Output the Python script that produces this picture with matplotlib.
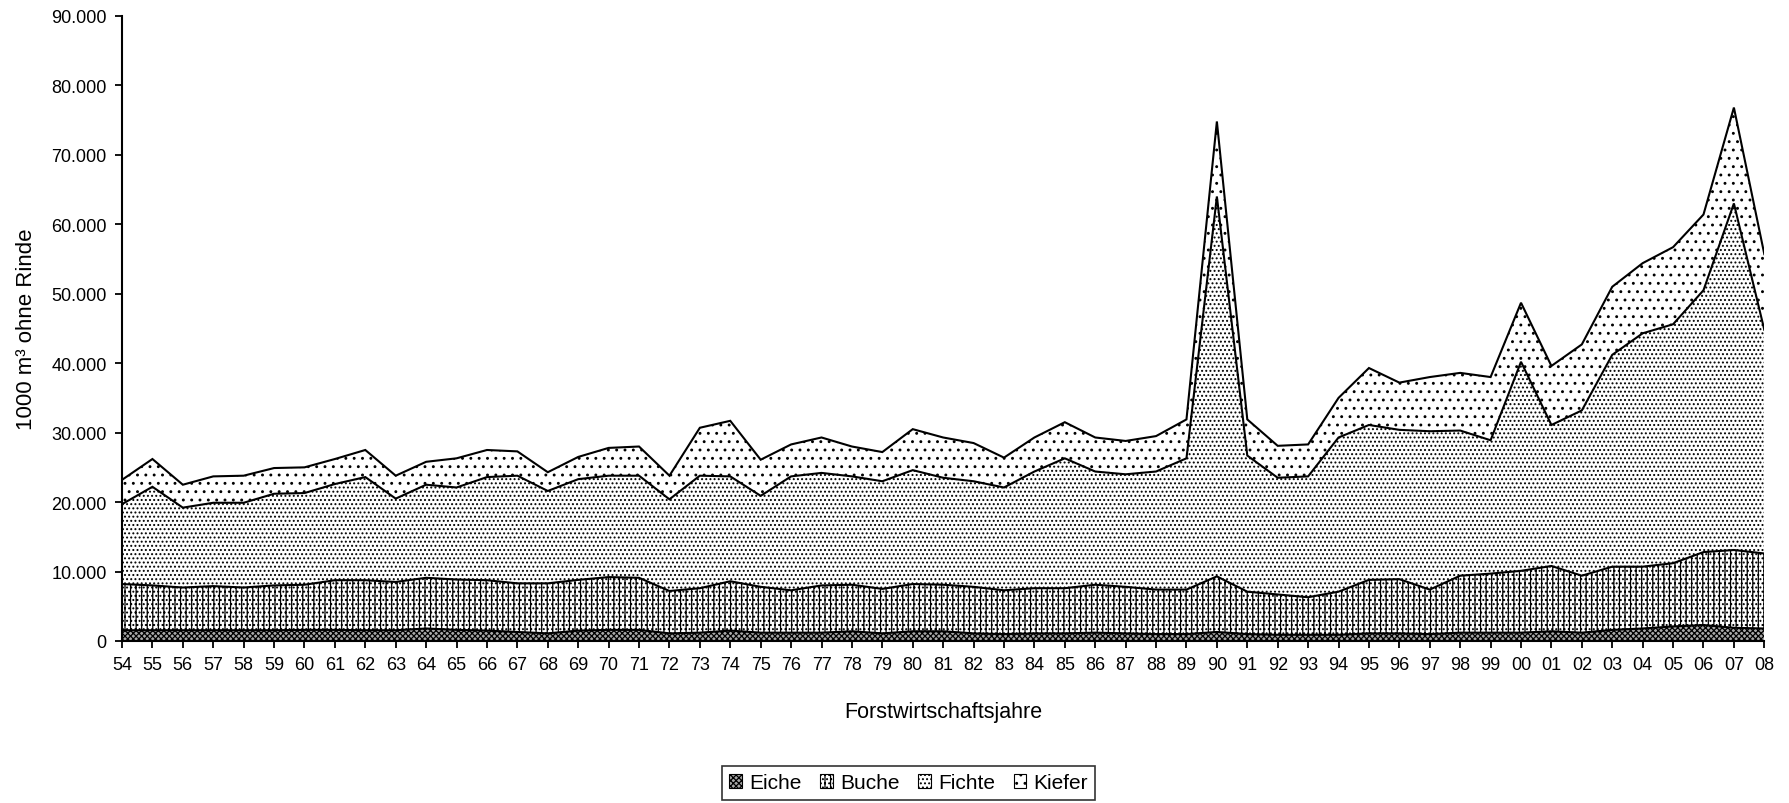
import numpy as np
import matplotlib
matplotlib.use("Agg")
import matplotlib.pyplot as plt
from matplotlib.patches import Patch
from matplotlib.ticker import FuncFormatter

plt.rcParams['font.family'] = ['Liberation Sans', 'DejaVu Sans']
plt.rcParams['hatch.linewidth'] = 0.9

# Forstwirtschaftsjahre 1954 - 2008
jahre = [str(j % 100).zfill(2) for j in range(1954, 2009)]

# Einschlag in 1000 m³ ohne Rinde, je Baumartengruppe
eiche = [1550, 1550, 1550, 1550, 1550, 1550, 1600, 1600, 1550, 1550,
         1800, 1600, 1500, 1300, 1100, 1500, 1600, 1600, 1100, 1200,
         1500, 1200, 1200, 1200, 1400, 1100, 1400, 1400, 1100, 1000,
         1100, 1100, 1200, 1100, 1000, 1000, 1300, 1000, 900, 900,
         900, 1100, 1100, 1000, 1200, 1200, 1200, 1400, 1200, 1600,
         1800, 2100, 2300, 1900, 1800]
buche = [6650, 6450, 6150, 6350, 6150, 6450, 6500, 7150, 7200, 6950,
         7300, 7250, 7250, 7000, 7200, 7300, 7600, 7500, 6100, 6400,
         7100, 6600, 6100, 6800, 6700, 6400, 6800, 6700, 6700, 6300,
         6500, 6500, 6900, 6700, 6400, 6400, 8000, 6100, 5800, 5400,
         6200, 7700, 7800, 6400, 8200, 8500, 8900, 9400, 8200, 9100,
         8900, 9100, 10500, 11200, 10800]
fichte = [11500, 14200, 11500, 12000, 12200, 13200, 13200, 13850, 14850, 12000,
          13400, 13250, 14850, 15500, 13300, 14500, 14600, 14700, 13200, 16200,
          15100, 13100, 16400, 16200, 15600, 15500, 16400, 15400, 15200, 14800,
          16800, 18700, 16300, 16200, 17000, 18900, 54700, 19600, 16800, 17400,
          22200, 22300, 21500, 22800, 20900, 19200, 30100, 20300, 23800, 30500,
          33600, 34400, 37700, 49900, 32200]
kiefer = [3500, 4000, 3300, 3800, 3900, 3700, 3700, 3600, 3900, 3300,
          3300, 4200, 3900, 3500, 2700, 3200, 4000, 4200, 3400, 6900,
          8000, 5200, 4600, 5100, 4300, 4200, 5900, 5800, 5500, 4300,
          4900, 5200, 4900, 4800, 5100, 5600, 10800, 5200, 4600, 4600,
          5700, 8200, 6800, 7800, 8300, 9100, 8500, 8500, 9500, 9800,
          10100, 11100, 10900, 13800, 10900]

namen = ["Eiche", "Buche", "Fichte", "Kiefer"]
muster = ["xxxxxx", "|||....", "....", ".."]
grund = ["#a8a8a8", "white", "white", "white"]

fig = plt.figure(figsize=(17.89, 8.04), dpi=100)
ax = fig.add_axes([0.0682, 0.2015, 0.918, 0.7775])

x = np.arange(len(jahre))
unten = np.zeros(len(jahre))
for werte, m, fc in zip([eiche, buche, fichte, kiefer], muster, grund):
    oben = unten + np.array(werte, dtype=float)
    ax.fill_between(x, unten, oben, facecolor=fc, edgecolor='black',
                    hatch=m, linewidth=0)
    ax.plot(x, oben, color='black', lw=1.5, solid_joinstyle='miter')
    unten = oben

ax.set_xlim(0, len(jahre) - 1)
ax.set_ylim(0, 90000)
ax.set_yticks(np.arange(0, 90001, 10000))
ax.yaxis.set_major_formatter(FuncFormatter(lambda v, p: f"{int(v):,}".replace(',', '.')))
ax.set_xticks(x)
ax.set_xticklabels(jahre)

for s in ['top', 'right']:
    ax.spines[s].set_visible(False)
for s in ['left', 'bottom']:
    ax.spines[s].set_linewidth(1.5)
ax.tick_params(direction='out', length=5, width=1.3, labelsize=13, pad=6)

ax.set_ylabel("1000 m³ ohne Rinde", fontsize=16)
ax.yaxis.set_label_coords(-0.052, 0.5)
ax.set_xlabel("Forstwirtschaftsjahre", fontsize=15.5)
ax.xaxis.set_label_coords(0.5, -0.096)

handles = [Patch(facecolor=fc, edgecolor='black', hatch=m, linewidth=0.8)
           for m, fc in zip(muster, grund)]
leg = fig.legend(handles, namen, loc='center', bbox_to_anchor=(0.508, 0.025),
                 ncol=4, fontsize=15, frameon=True, fancybox=False,
                 edgecolor='black', handlelength=0.6, handleheight=0.6,
                 handletextpad=0.35, columnspacing=0.9, borderpad=0.35)
leg.get_frame().set_linewidth(1.2)

fig.savefig("out.png", dpi=100)
